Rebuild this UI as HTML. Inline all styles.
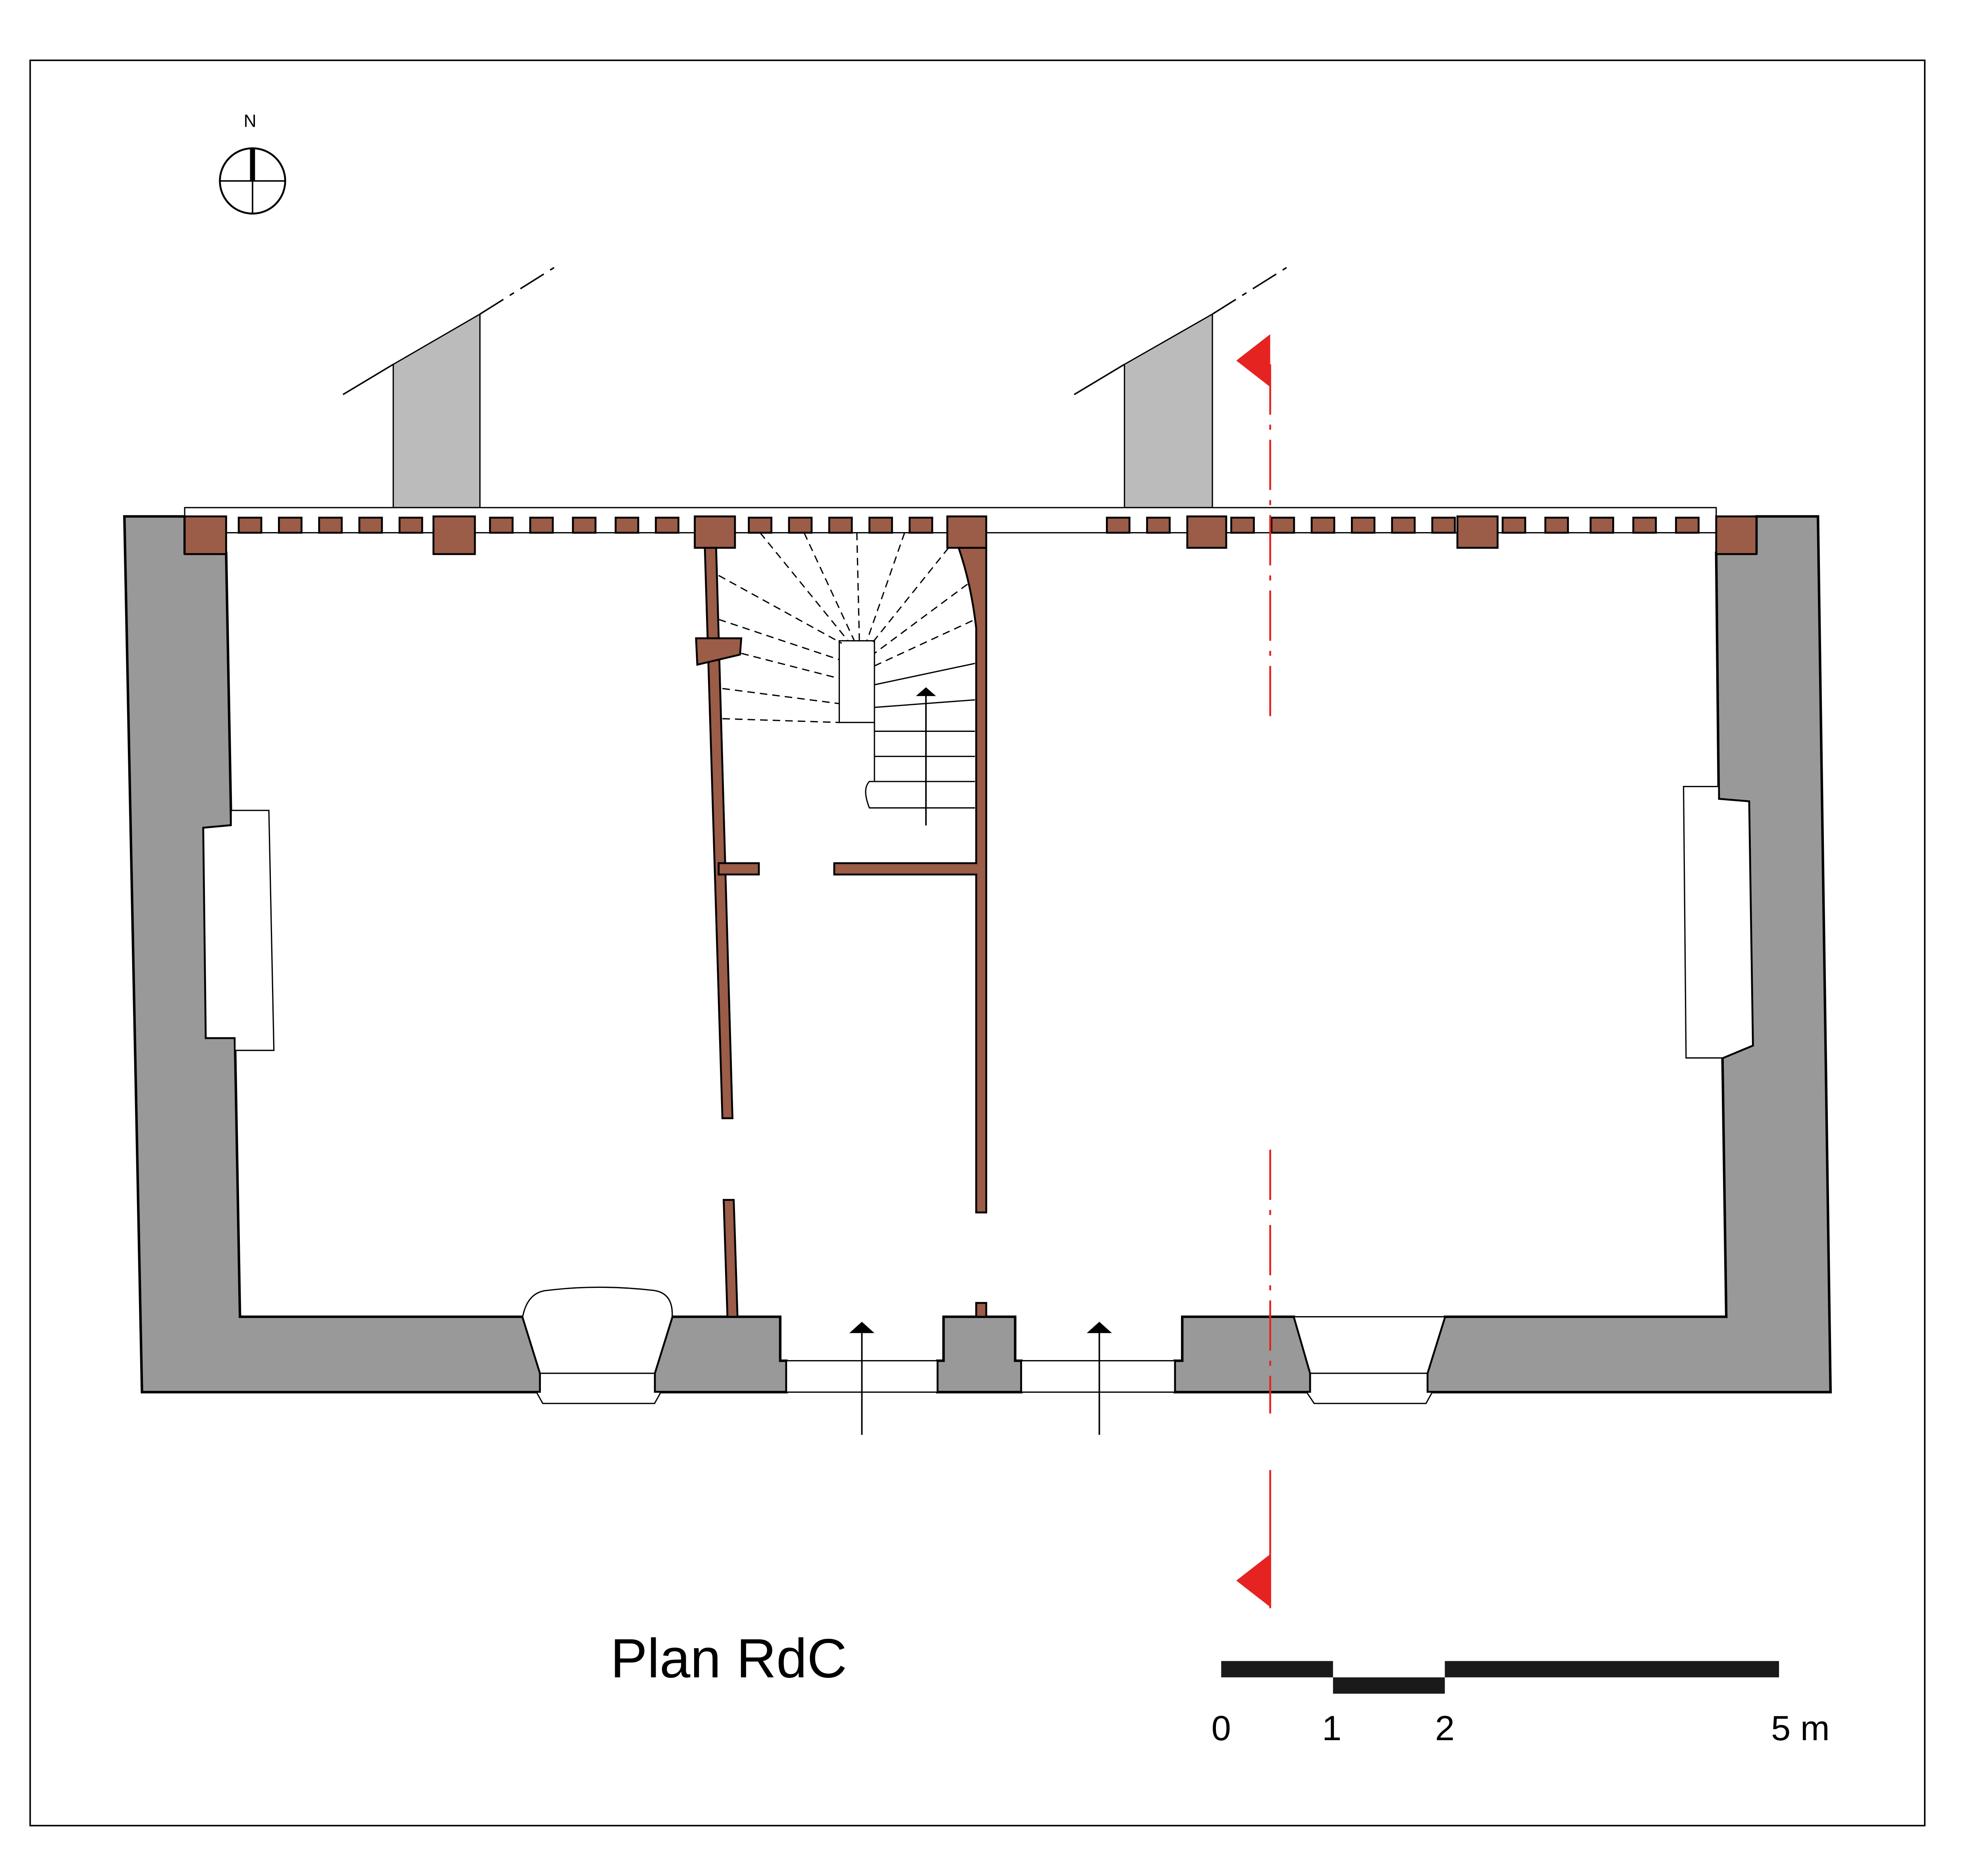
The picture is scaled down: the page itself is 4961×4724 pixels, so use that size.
<!DOCTYPE html>
<html><head><meta charset="utf-8"><style>html,body{margin:0;padding:0;background:#fff}svg{display:block}</style></head><body>
<svg width="4961" height="4724" viewBox="0 0 1568 1493.1" xmlns="http://www.w3.org/2000/svg" font-family="Liberation Sans, sans-serif">
<rect x="24" y="48" width="1508" height="1405" fill="#fff" stroke="#000" stroke-width="1.2"/>
<!-- north -->
<text x="199" y="101" font-size="14" text-anchor="middle">N</text>
<circle cx="201" cy="144" r="26" fill="none" stroke="#000" stroke-width="1.5"/>
<line x1="175" y1="144" x2="227" y2="144" stroke="#000" stroke-width="1.2"/>
<line x1="201" y1="118" x2="201" y2="170" stroke="#000" stroke-width="1.2"/>
<rect x="199" y="118" width="4" height="26" fill="#000"/>
<!-- chimneys/gray -->
<polygon points="313,290 382,250 382,404 313,404" fill="#bbb" stroke="#000" stroke-width="1"/>
<line x1="273" y1="314" x2="313" y2="290" stroke="#000" stroke-width="1.2"/>
<line x1="382" y1="250" x2="441" y2="213" stroke="#000" stroke-width="1.2" stroke-dasharray="22,6,4,6"/>
<polygon points="895,290 965,250 965,404 895,404" fill="#bbb" stroke="#000" stroke-width="1"/>
<line x1="855" y1="314" x2="895" y2="290" stroke="#000" stroke-width="1.2"/>
<line x1="965" y1="250" x2="1024" y2="213" stroke="#000" stroke-width="1.2" stroke-dasharray="22,6,4,6"/>
<!-- walls -->
<g fill="#999" stroke="#000" stroke-width="2">
<polygon points="99,411 147,411 147,440 180,440 184,657 162,659 164,826 187,826 191,1048 416,1048 430,1093 430,1108 113,1108"/>
<polygon points="521,1093 535,1048 621,1048 621,1083 626,1083 626,1108 521,1108"/>
<polygon points="751,1048 808,1048 808,1083 813,1083 813,1108 746,1108 746,1083 751,1083"/>
<polygon points="941,1048 1030,1048 1043,1093 1043,1108 935,1108 935,1083 941,1083"/>
<polygon points="1150,1048 1374,1048 1371,842 1395,832 1392,638 1368,636 1366,440 1398,440 1398,411 1447,411 1457,1108 1136,1108 1136,1093"/>
</g>
<!-- side windows -->
<g fill="#fff" stroke="#000" stroke-width="1">
<polygon points="184,645 214,645 218,836 187,836 187,826 164,826 162,659 184,657"/>
<polygon points="1340,626 1368,626 1368,636 1392,638 1395,832 1371,842 1342,842"/>
<rect x="626" y="1083" width="120" height="25"/>
<rect x="813" y="1083" width="122" height="25"/>
<path d="M416,1048 Q420,1028 436,1027 Q476,1022 520,1027 Q536,1029 535,1048 L521,1093 L430,1093 Z"/>
<polygon points="430,1093 521,1093 521,1108 526,1108 521,1117 432,1117 427,1108 430,1108"/>
<polygon points="1030,1048 1150,1048 1136,1093 1043,1093"/>
<polygon points="1043,1093 1136,1093 1136,1108 1140,1108 1135,1117 1046,1117 1040,1108 1043,1108"/>
</g>
<!-- top strip -->
<rect x="147" y="404" width="1219" height="20" fill="#fff" stroke="#000" stroke-width="1"/>
<g fill="#9b5c48" stroke="#000" stroke-width="1.5">
<rect x="147" y="411" width="33" height="30"/><rect x="345" y="411" width="33" height="30"/>
<rect x="553" y="411" width="32" height="25"/><rect x="754" y="411" width="31" height="25"/>
<rect x="945" y="411" width="31" height="25"/><rect x="1160" y="411" width="32" height="25"/>
<rect x="1366" y="411" width="32" height="30"/>
<g>
<rect x="190" y="412" width="18" height="12"/><rect x="222" y="412" width="18" height="12"/><rect x="254" y="412" width="18" height="12"/><rect x="286" y="412" width="18" height="12"/><rect x="318" y="412" width="18" height="12"/>
<rect x="390" y="412" width="18" height="12"/><rect x="422" y="412" width="18" height="12"/><rect x="456" y="412" width="18" height="12"/><rect x="490" y="412" width="18" height="12"/><rect x="522" y="412" width="18" height="12"/>
<rect x="596" y="412" width="18" height="12"/><rect x="628" y="412" width="18" height="12"/><rect x="660" y="412" width="18" height="12"/><rect x="692" y="412" width="18" height="12"/><rect x="724" y="412" width="18" height="12"/>
<rect x="881" y="412" width="18" height="12"/><rect x="913" y="412" width="18" height="12"/>
<rect x="980" y="412" width="18" height="12"/><rect x="1012" y="412" width="18" height="12"/><rect x="1044" y="412" width="18" height="12"/><rect x="1076" y="412" width="18" height="12"/><rect x="1108" y="412" width="18" height="12"/><rect x="1140" y="412" width="18" height="12"/>
<rect x="1196" y="412" width="18" height="12"/><rect x="1230" y="412" width="18" height="12"/><rect x="1266" y="412" width="18" height="12"/><rect x="1300" y="412" width="18" height="12"/><rect x="1334" y="412" width="18" height="12"/>
</g>
<!-- partitions -->
<polygon points="561,436 570,436 583,890 575,890"/>
<polygon points="576,955 584,955 587,1048 579,1048"/>
<path d="M763,436 L785,436 L785,965 L777,965 L777,696 L664,696 L664,687 L777,687 L777,500 Q773,465 763,436 Z"/>
<rect x="572" y="687" width="32" height="9"/>
<polygon points="554,508 590,508 589,521 555,529"/>
<rect x="777" y="1037" width="8" height="11"/>
</g>
<!-- stairs -->
<g stroke="#000" stroke-width="1" fill="none">
<rect x="668" y="510" width="28" height="65" fill="#fff"/>
<path d="M696,575 L696,622 L692,622 Q686,628 692,643 L776,643"/>
<line x1="696" y1="545" x2="776" y2="528"/>
<line x1="696" y1="563" x2="776" y2="557"/>
<line x1="696" y1="582" x2="776" y2="582"/>
<line x1="696" y1="602" x2="776" y2="602"/>
<line x1="696" y1="622" x2="776" y2="622"/>
<g stroke-dasharray="6,4">
<line x1="575" y1="572" x2="668" y2="575"/>
<line x1="575" y1="548" x2="668" y2="560"/>
<line x1="590" y1="520" x2="668" y2="540"/>
<line x1="572" y1="493" x2="668" y2="525"/>
<line x1="572" y1="458" x2="670" y2="512"/>
<line x1="605" y1="424" x2="675" y2="510"/>
<line x1="640" y1="424" x2="680" y2="510"/>
<line x1="682" y1="424" x2="684" y2="510"/>
<line x1="720" y1="424" x2="690" y2="510"/>
<line x1="755" y1="436" x2="694" y2="512"/>
<line x1="770" y1="465" x2="696" y2="520"/>
<line x1="774" y1="494" x2="696" y2="530"/>
</g>
</g>
<!-- arrows -->
<g stroke="#000" stroke-width="1.2">
<line x1="737" y1="657" x2="737" y2="552"/>
<line x1="686" y1="1142" x2="686" y2="1058"/>
<line x1="875" y1="1142" x2="875" y2="1058"/>
</g>
<g fill="#000">
<polygon points="729,554 737,547 745,554"/>
<polygon points="676,1061 686,1052 696,1061"/>
<polygon points="865,1061 875,1052 885,1061"/>
</g>
<!-- section line -->
<g stroke="#e52421" stroke-width="1.5" fill="none">
<line x1="1011" y1="290" x2="1011" y2="575" stroke-dasharray="40,8,4,8"/>
<line x1="1011" y1="915" x2="1011" y2="1125" stroke-dasharray="40,8,4,8"/>
<line x1="1011" y1="1170" x2="1011" y2="1280"/>
</g>
<polygon points="984,287 1011,266 1011,308" fill="#e52421"/>
<polygon points="984,1258 1011,1237 1011,1279" fill="#e52421"/>
<!-- title and scale -->
<text x="580" y="1335" font-size="44" text-anchor="middle">Plan RdC</text>
<rect x="972" y="1322" width="89" height="13" fill="#1a1a1a"/>
<rect x="1061" y="1335" width="89" height="13" fill="#1a1a1a"/>
<rect x="1150" y="1322" width="266" height="13" fill="#1a1a1a"/>
<g font-size="28" text-anchor="middle">
<text x="972" y="1385">0</text><text x="1060" y="1385">1</text><text x="1150" y="1385">2</text><text x="1433" y="1385">5 m</text>
</g>
</svg>
</body></html>
